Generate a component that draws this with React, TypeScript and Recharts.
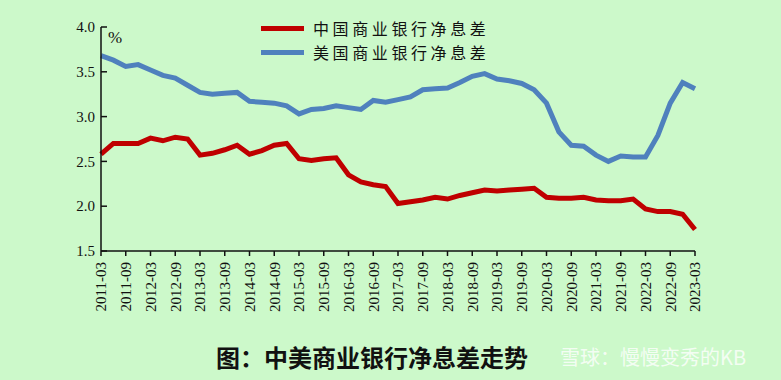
import { LineChart, Line, XAxis, YAxis } from 'recharts';

const periods = [
  '2011-03', '2011-06', '2011-09', '2011-12',
  '2012-03', '2012-06', '2012-09', '2012-12',
  '2013-03', '2013-06', '2013-09', '2013-12',
  '2014-03', '2014-06', '2014-09', '2014-12',
  '2015-03', '2015-06', '2015-09', '2015-12',
  '2016-03', '2016-06', '2016-09', '2016-12',
  '2017-03', '2017-06', '2017-09', '2017-12',
  '2018-03', '2018-06', '2018-09', '2018-12',
  '2019-03', '2019-06', '2019-09', '2019-12',
  '2020-03', '2020-06', '2020-09', '2020-12',
  '2021-03', '2021-06', '2021-09', '2021-12',
  '2022-03', '2022-06', '2022-09', '2022-12',
  '2023-03',
];

// 中国商业银行净息差 (%)
const chinaNim = [
  2.58, 2.70, 2.70, 2.70, 2.76, 2.73, 2.77, 2.75,
  2.57, 2.59, 2.63, 2.68, 2.58, 2.62, 2.68, 2.70,
  2.53, 2.51, 2.53, 2.54, 2.35, 2.27, 2.24, 2.22,
  2.03, 2.05, 2.07, 2.10, 2.08, 2.12, 2.15, 2.18,
  2.17, 2.18, 2.19, 2.20, 2.10, 2.09, 2.09, 2.10,
  2.07, 2.06, 2.06, 2.08, 1.97, 1.94, 1.94, 1.91,
  1.74,
];

// 美国商业银行净息差 (%)
const usNim = [
  3.68, 3.63, 3.56, 3.58, 3.52, 3.46, 3.43, 3.35,
  3.27, 3.25, 3.26, 3.27, 3.17, 3.16, 3.15, 3.12,
  3.03, 3.08, 3.09, 3.12, 3.10, 3.08, 3.18, 3.16,
  3.19, 3.22, 3.30, 3.31, 3.32, 3.38, 3.45, 3.48,
  3.42, 3.40, 3.37, 3.30, 3.15, 2.83, 2.68, 2.67,
  2.57, 2.50, 2.56, 2.55, 2.55, 2.79, 3.15, 3.38,
  3.31,
];

const yTicks = [1.5, 2.0, 2.5, 3.0, 3.5, 4.0];

const data = periods.map((period, i) => ({ period, china: chinaNim[i], us: usNim[i] }));

const BG = '#CCF9CA';
const RED = '#BF0000';
const BLUE = '#4F81BD';
const SERIF = '"Liberation Serif", "Times New Roman", serif';
const CJK = '"Noto Sans CJK SC", "Noto Sans", sans-serif';

const XTick = ({ x, y, payload }: any) => (
  <text
    x={x}
    y={y + 4}
    transform={`rotate(-90, ${x}, ${y + 4})`}
    textAnchor="end"
    dy="0.36em"
    fontSize={15}
    fontFamily={SERIF}
    fill="#111"
  >
    {payload.value}
  </text>
);

// y ticks point inward, so draw the tick mark ourselves
const YTick = ({ x, y, payload }: any) => (
  <g>
    <line x1={x + 6} x2={x + 12} y1={y} y2={y} stroke="#111" strokeWidth={1.5} />
    <text x={x} y={y} dy="0.35em" textAnchor="end" fontSize={15} fontFamily={SERIF} fill="#111">
      {Number(payload.value).toFixed(1)}
    </text>
  </g>
);

const legendText = { fontFamily: CJK, fontSize: 16, letterSpacing: 3.6, color: '#111', lineHeight: '23px' };

export default function App() {
  return (
    <div style={{ position: 'fixed', left: 0, top: 0, width: 781, height: 380, background: BG, overflow: 'hidden' }}>
      <LineChart width={781} height={380} data={data} margin={{ top: 27, right: 86, left: 0, bottom: 0 }}>
        <XAxis
          dataKey="period"
          interval={1}
          height={129}
          tick={<XTick />}
          tickSize={5}
          axisLine={{ stroke: '#111', strokeWidth: 1.5 }}
          tickLine={{ stroke: '#111', strokeWidth: 1.5 }}
        />
        <YAxis
          type="number"
          domain={[1.5, 4]}
          ticks={yTicks}
          width={101}
          tickSize={0}
          tickMargin={6}
          tick={<YTick />}
          axisLine={{ stroke: '#111', strokeWidth: 1.5 }}
          tickLine={false}
        />
        <Line type="linear" dataKey="us" stroke={BLUE} strokeWidth={5} dot={false} isAnimationActive={false} />
        <Line type="linear" dataKey="china" stroke={RED} strokeWidth={5} dot={false} isAnimationActive={false} />
      </LineChart>

      <div style={{ position: 'absolute', left: 108, top: 28, fontFamily: SERIF, fontSize: 17, color: '#111' }}>%</div>

      <div style={{ position: 'absolute', left: 261, top: 16 }}>
        <div style={{ display: 'flex', alignItems: 'center', height: 24 }}>
          <span style={{ display: 'inline-block', width: 43, height: 5, background: RED, marginRight: 9 }} />
          <span style={legendText}>中国商业银行净息差</span>
        </div>
        <div style={{ display: 'flex', alignItems: 'center', height: 24 }}>
          <span style={{ display: 'inline-block', width: 43, height: 5, background: BLUE, marginRight: 9 }} />
          <span style={legendText}>美国商业银行净息差</span>
        </div>
      </div>

      <div
        style={{
          position: 'absolute',
          left: 216,
          top: 339,
          fontFamily: CJK,
          fontSize: 24,
          fontWeight: 700,
          color: '#111',
          whiteSpace: 'nowrap',
        }}
      >
        图：中美商业银行净息差走势
      </div>
      <div
        style={{
          position: 'absolute',
          left: 560,
          top: 342,
          fontFamily: CJK,
          fontSize: 20,
          color: 'rgba(255,255,255,0.8)',
          whiteSpace: 'nowrap',
        }}
      >
        雪球：慢慢变秀的KB
      </div>
    </div>
  );
}
